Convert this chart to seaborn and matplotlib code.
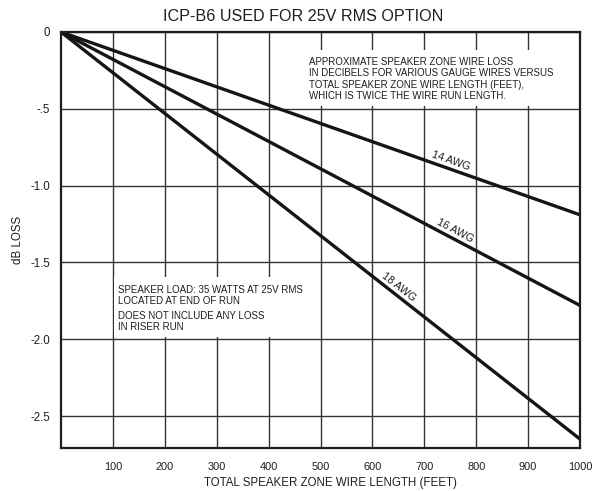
"""
Wire loss chart for the ICP-B6 at 25V RMS.
"""

import numpy as np
import pandas as pd
import matplotlib
matplotlib.use("Agg")
import matplotlib.pyplot as plt
from matplotlib.patches import Rectangle
import seaborn as sns

LENGTH_FT = [0, 1000]
LOSS_14AWG = [0, -1.19]
LOSS_16AWG = [0, -1.78]
LOSS_18AWG = [0, -2.65]
GAUGES = ["14 AWG", "16 AWG", "18 AWG"]
LABEL_AT_FT = [748, 755, 645]

X_TICKS = [100, 200, 300, 400, 500, 600, 700, 800, 900, 1000]
Y_TICKS = [0, -0.5, -1.0, -1.5, -2.0, -2.5]
Y_TICK_LABELS = ["0", "-.5", "-1.0", "-1.5", "-2.0", "-2.5"]

TITLE = "ICP-B6 USED FOR 25V RMS OPTION"
NOTE_TOP = ("APPROXIMATE SPEAKER ZONE WIRE LOSS\n"
            "IN DECIBELS FOR VARIOUS GAUGE WIRES VERSUS\n"
            "TOTAL SPEAKER ZONE WIRE LENGTH (FEET),\n"
            "WHICH IS TWICE THE WIRE RUN LENGTH.")
NOTE_LOAD = "SPEAKER LOAD: 35 WATTS AT 25V RMS\nLOCATED AT END OF RUN"
NOTE_RISER = "DOES NOT INCLUDE ANY LOSS\nIN RISER RUN"

INK = "#1e1e1e"


def build_frame():
    rows = []
    for gauge, losses in zip(GAUGES, [LOSS_14AWG, LOSS_16AWG, LOSS_18AWG]):
        for ft, db in zip(LENGTH_FT, losses):
            rows.append({"gauge": gauge, "length": ft, "loss": db})
    return pd.DataFrame(rows)


def main():
    sns.set_style("white")
    plt.rcParams["font.family"] = ["Liberation Sans", "DejaVu Sans"]

    df = build_frame()
    fig = plt.figure(figsize=(6.02, 4.91), dpi=100)
    ax = fig.add_axes([61 / 602, 1 - 448 / 491, 519 / 602, 416 / 491])

    sns.lineplot(data=df, x="length", y="loss", hue="gauge",
                 palette=["#151515"] * 3, linewidth=2.4, legend=False, ax=ax)
    for line in ax.lines:
        line.set_solid_capstyle("butt")
        line.set_zorder(4)

    ax.set_xlim(0, 1000)
    ax.set_ylim(-2.708, 0)
    ax.set_xticks(X_TICKS)
    ax.set_yticks(Y_TICKS)
    ax.set_yticklabels(Y_TICK_LABELS)
    ax.tick_params(length=0, colors=INK)
    ax.tick_params(axis="x", pad=10, labelsize=7.9)
    ax.tick_params(axis="y", pad=8, labelsize=8.3)
    ax.grid(True, color="#333333", linewidth=1.0)
    ax.set_axisbelow(True)
    for spine in ax.spines.values():
        spine.set_color(INK)
        spine.set_linewidth(1.6)
        spine.set_zorder(5)

    fig.suptitle(TITLE, x=0.503, y=0.967, va="center", fontsize=11.6, color=INK)
    ax.set_xlabel("TOTAL SPEAKER ZONE WIRE LENGTH (FEET)", fontsize=8.3,
                  labelpad=4, x=0.52, color=INK)
    ax.set_ylabel("dB LOSS", fontsize=8.3, labelpad=4.5, color=INK)

    # gauge labels sit along each line
    for gauge, losses, at in zip(GAUGES, [LOSS_14AWG, LOSS_16AWG, LOSS_18AWG], LABEL_AT_FT):
        p0 = ax.transData.transform((LENGTH_FT[0], losses[0]))
        p1 = ax.transData.transform((LENGTH_FT[1], losses[1]))
        angle = np.degrees(np.arctan2(p1[1] - p0[1], p1[0] - p0[0]))
        y_on = np.interp(at, LENGTH_FT, losses)
        ax.annotate(gauge, xy=(at, y_on), xytext=(0, 2.5), textcoords="offset points",
                    rotation=angle, rotation_mode="anchor", ha="center", va="bottom",
                    fontsize=7.8, color=INK, zorder=6)

    # white panels behind the notes hide the grid
    ax.add_patch(Rectangle((460, -0.482), 538, 0.365, facecolor="white",
                           edgecolor="none", zorder=2))
    ax.add_patch(Rectangle((102, -1.986), 378, 0.391, facecolor="white",
                           edgecolor="none", zorder=2))

    ax.text(477, -0.16, NOTE_TOP, fontsize=7.05, va="top", ha="left",
            linespacing=1.19, color=INK, zorder=3)
    ax.text(110, -1.645, NOTE_LOAD, fontsize=7.05, va="top", ha="left",
            linespacing=1.19, color=INK, zorder=3)
    ax.text(110, -1.815, NOTE_RISER, fontsize=7.05, va="top", ha="left",
            linespacing=1.19, color=INK, zorder=3)

    fig.savefig("out.png", dpi=100)
    plt.close(fig)


if __name__ == "__main__":
    main()
